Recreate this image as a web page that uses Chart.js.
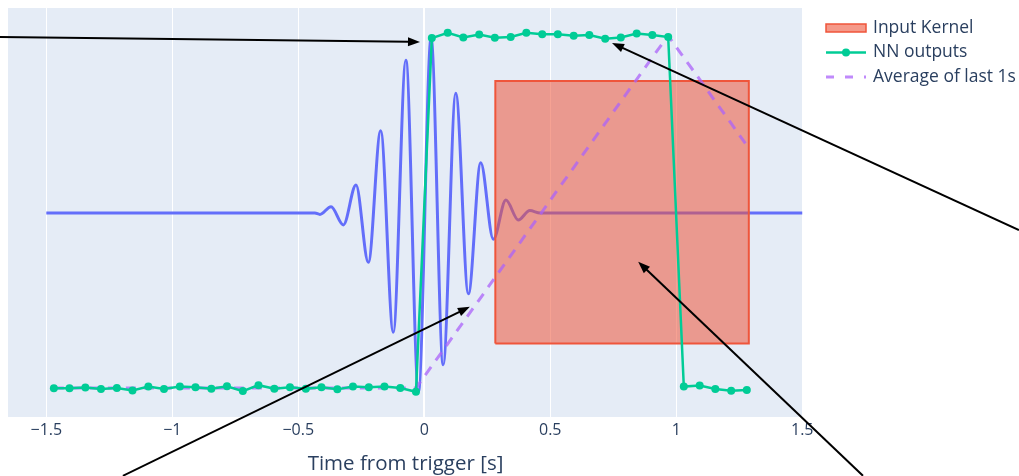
<!DOCTYPE html>
<html>
<head>
<meta charset="utf-8">
<script src="https://cdn.jsdelivr.net/npm/chart.js@4.4.1/dist/chart.umd.min.js"></script>
<style>
  html, body { margin: 0; padding: 0; background: #fff; }
  #wrap { width: 1019px; height: 476px; position: relative; }
</style>
</head>
<body>
<div id="wrap"><canvas id="myChart" width="1019" height="476"></canvas></div>
<script>
// x axis ticks
const tickValues = [-1.5, -1, -0.5, 0, 0.5, 1, 1.5];

// strain wave (extrema)
const waveTime = [-1.5, -0.434, -0.414, -0.370, -0.321, -0.271, -0.222, -0.173, -0.123, -0.073, -0.023,
                  0.027, 0.075, 0.125, 0.175, 0.224, 0.274, 0.324, 0.373, 0.419, 0.46, 1.5];
const waveAmp = [0.5, 0.5, 0.496, 0.518, 0.466, 0.580, 0.359, 0.735, 0.159, 0.937, -0.01,
                 1.0, 0.066, 0.842, 0.269, 0.644, 0.425, 0.537, 0.48, 0.507, 0.5, 0.5];

// NN outputs, one every 1/16 s
const nnTime = [-1.470, -1.408, -1.345, -1.283, -1.220, -1.158, -1.095, -1.033, -0.970, -0.908,
                -0.845, -0.783, -0.720, -0.658, -0.595, -0.533, -0.470, -0.408, -0.345, -0.283,
                -0.220, -0.158, -0.095, -0.033, 0.030, 0.093, 0.155, 0.218, 0.280, 0.343,
                0.405, 0.468, 0.530, 0.593, 0.655, 0.718, 0.780, 0.843, 0.905, 0.968,
                1.030, 1.093, 1.155, 1.218, 1.280];
const nnOut = [-0.001, -0.001, 0.001, -0.003, 0.000, -0.007, 0.004, -0.003, 0.004, 0.002,
               -0.002, 0.005, -0.009, 0.008, -0.002, 0.002, -0.002, 0.002, -0.004, 0.004,
               0.002, 0.004, 0.000, -0.011, 1.000, 1.015, 1.002, 1.010, 1.001, 1.003,
               1.015, 1.011, 1.011, 1.007, 1.009, 0.998, 1.002, 1.013, 1.009, 1.003,
               0.004, 0.007, -0.003, -0.008, -0.006];
const avgOut = [0.000, 0.000, 0.000, 0.000, 0.000, 0.000, 0.000, 0.000, 0.000, 0.000,
                0.000, 0.000, 0.000, 0.000, 0.000, 0.000, 0.000, 0.000, 0.000, 0.000,
                0.000, 0.000, 0.000, 0.000, 0.063, 0.126, 0.189, 0.252, 0.315, 0.378,
                0.441, 0.504, 0.567, 0.630, 0.693, 0.756, 0.819, 0.882, 0.945, 1.007,
                0.944, 0.882, 0.819, 0.756, 0.693];

// input kernel box
const kernelX = [0.282, 0.282, 1.288, 1.288, 0.282];
const kernelY = [0.127, 0.877, 0.877, 0.127, 0.127];

// annotation arrows (tail -> head), in data units
const arrowFromX = [-1.684, 2.360, -1.196, 1.741];
const arrowFromY = [1.003, 0.451, -0.251, -0.251];
const arrowToX = [-0.017, 0.745, 0.181, 0.849];
const arrowToY = [0.989, 0.986, 0.232, 0.361];

const legendNames = ['Input Kernel', 'NN outputs', 'Average of last 1s'];

const toPts = (xs, ys) => xs.map((x, i) => ({x: x, y: ys[i]}));

const TXT = '#2a3f5f';
const FONT = '"Open Sans", sans-serif';
const AVG_COLOR = 'rgba(171,99,250,0.75)';

const bgPlugin = {
  id: 'plotBg',
  beforeDraw(chart) {
    const {ctx, chartArea: a} = chart;
    ctx.save();
    ctx.fillStyle = '#E5ECF6';
    ctx.fillRect(a.left, a.top, a.right - a.left, a.bottom - a.top);
    ctx.restore();
  }
};

const extrasPlugin = {
  id: 'extras',
  afterDraw(chart) {
    const ctx = chart.ctx;
    const xs = chart.scales.x, ys = chart.scales.y;
    ctx.save();
    // arrows
    ctx.strokeStyle = '#000';
    ctx.fillStyle = '#000';
    ctx.lineWidth = 2;
    for (let i = 0; i < arrowFromX.length; i++) {
      const x0 = xs.getPixelForValue(arrowFromX[i]), y0 = ys.getPixelForValue(arrowFromY[i]);
      const x1 = xs.getPixelForValue(arrowToX[i]), y1 = ys.getPixelForValue(arrowToY[i]);
      const ang = Math.atan2(y1 - y0, x1 - x0);
      const L = 12, W = 4.5;
      const bx = x1 - L * Math.cos(ang), by = y1 - L * Math.sin(ang);
      ctx.beginPath();
      ctx.moveTo(x0, y0);
      ctx.lineTo(bx + Math.cos(ang), by + Math.sin(ang));
      ctx.stroke();
      ctx.beginPath();
      ctx.moveTo(x1, y1);
      ctx.lineTo(bx + W * Math.sin(ang), by - W * Math.cos(ang));
      ctx.lineTo(bx - W * Math.sin(ang), by + W * Math.cos(ang));
      ctx.closePath();
      ctx.fill();
    }
    // legend
    const lx = 826, tx = 873;
    const rowY = [28, 52.5, 77];
    ctx.font = '17.5px ' + FONT;
    ctx.textBaseline = 'middle';
    ctx.fillStyle = TXT;
    legendNames.forEach((n, i) => ctx.fillText(n, tx, rowY[i]));
    // kernel swatch
    ctx.fillStyle = 'rgba(239,85,59,0.6)';
    ctx.fillRect(lx, rowY[0] - 4, 40, 8);
    ctx.strokeStyle = '#EF553B';
    ctx.lineWidth = 1.5;
    ctx.strokeRect(lx, rowY[0] - 4, 40, 8);
    // nn swatch
    ctx.strokeStyle = '#00CC96';
    ctx.lineWidth = 2.5;
    ctx.beginPath();
    ctx.moveTo(lx, rowY[1]);
    ctx.lineTo(lx + 40, rowY[1]);
    ctx.stroke();
    ctx.fillStyle = '#00CC96';
    ctx.beginPath();
    ctx.arc(lx + 20, rowY[1], 4, 0, Math.PI * 2);
    ctx.fill();
    // avg swatch
    ctx.strokeStyle = AVG_COLOR;
    ctx.lineWidth = 3;
    ctx.setLineDash([8, 11]);
    ctx.beginPath();
    ctx.moveTo(lx, rowY[2]);
    ctx.lineTo(lx + 40, rowY[2]);
    ctx.stroke();
    ctx.restore();
  }
};

const ctx = document.getElementById('myChart').getContext('2d');
const myChart = new Chart(ctx, {
  type: 'line',
  data: {
    datasets: [
      {
        label: 'NN outputs',
        data: toPts(nnTime, nnOut),
        borderColor: '#00CC96',
        backgroundColor: '#00CC96',
        borderWidth: 2.5,
        pointRadius: 4,
        pointBorderWidth: 0,
        pointBackgroundColor: '#00CC96',
        tension: 0,
        order: 0
      },
      {
        label: 'Average of last 1s',
        data: toPts(nnTime, avgOut),
        borderColor: AVG_COLOR,
        borderWidth: 3,
        borderDash: [10, 8],
        pointRadius: 0,
        tension: 0,
        order: 1
      },
      {
        label: 'Input Kernel',
        data: toPts(kernelX, kernelY),
        borderColor: '#EF553B',
        backgroundColor: 'rgba(239,85,59,0.55)',
        borderWidth: 2,
        pointRadius: 0,
        fill: 'shape',
        tension: 0,
        order: 2
      },
      {
        label: 'wave',
        data: toPts(waveTime, waveAmp),
        borderColor: '#636EFA',
        borderWidth: 3,
        pointRadius: 0,
        cubicInterpolationMode: 'monotone',
        order: 3
      }
    ]
  },
  options: {
    responsive: false,
    animation: false,
    events: [],
    layout: { padding: { left: 8, top: 8, right: 216, bottom: 0 } },
    plugins: {
      legend: { display: false },
      tooltip: { enabled: false }
    },
    scales: {
      x: {
        type: 'linear',
        min: -1.652,
        max: 1.503,
        afterBuildTicks: (scale) => { scale.ticks = tickValues.map(v => ({value: v})); },
        afterFit: (scale) => { scale.height = 59; },
        grid: {
          color: '#ffffff',
          lineWidth: (c) => (c.tick && c.tick.value === 0 ? 2 : 1),
          drawTicks: false
        },
        border: { display: false },
        ticks: {
          padding: 4,
          color: TXT,
          font: { family: FONT, size: 16 },
          maxRotation: 0,
          callback: (v) => (v < 0 ? '\u2212' + Math.abs(v) : String(v))
        },
        title: {
          display: true,
          text: 'Time from trigger [s]',
          color: TXT,
          font: { family: FONT, size: 20.5 },
          padding: { top: 0, bottom: 0 }
        }
      },
      y: {
        display: false,
        min: -0.083,
        max: 1.086
      }
    }
  },
  plugins: [bgPlugin, extrasPlugin]
});
</script>
</body>
</html>
